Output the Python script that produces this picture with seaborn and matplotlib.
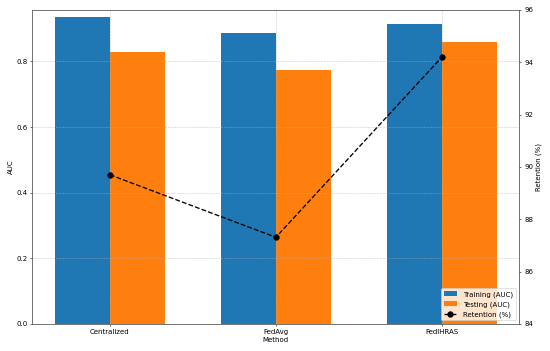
import matplotlib
matplotlib.use('agg')
import matplotlib.pyplot as plt
import pandas as pd
import seaborn as sns

methods = ['Centralized', 'FedAvg', 'FedIHRAS']
train_auc = [0.937, 0.887, 0.914]
test_auc = [0.829, 0.774, 0.859]
retention = [89.70, 87.31, 94.20]

df = pd.DataFrame({
    'Method': methods * 2,
    'AUC': train_auc + test_auc,
    'Set': ['Training (AUC)'] * 3 + ['Testing (AUC)'] * 3,
})

fig, ax = plt.subplots(figsize=(11, 7.02), dpi=50)
sns.barplot(data=df, x='Method', y='AUC', hue='Set', width=2/3, saturation=1,
            palette=['#1f77b4', '#ff7f0e'], errorbar=None, ax=ax)
ax.set_xlim(-0.467, 2.467)
ax.set_ylim(0, 0.957)
ax.set_xlabel('Method')
ax.set_ylabel('AUC')
ax.xaxis.grid(True, linestyle='--', alpha=0.7)
ax.yaxis.grid(True, linestyle='--', alpha=0.7)
for s in ax.spines.values():
    s.set_color('#555555')

ax2 = ax.twinx()
ax2.plot(range(len(methods)), retention, 'k--o', lw=1.9, ms=8, label='Retention (%)')
ax2.set_ylim(84, 96)
ax2.set_ylabel('Retention (%)')
for s in ax2.spines.values():
    s.set_color('#555555')

h1, l1 = ax.get_legend_handles_labels()
h2, l2 = ax2.get_legend_handles_labels()
ax.get_legend().remove()
ax2.legend(h1 + h2, l1 + l2, loc='lower right')

fig.tight_layout()
fig.savefig('out.png')
